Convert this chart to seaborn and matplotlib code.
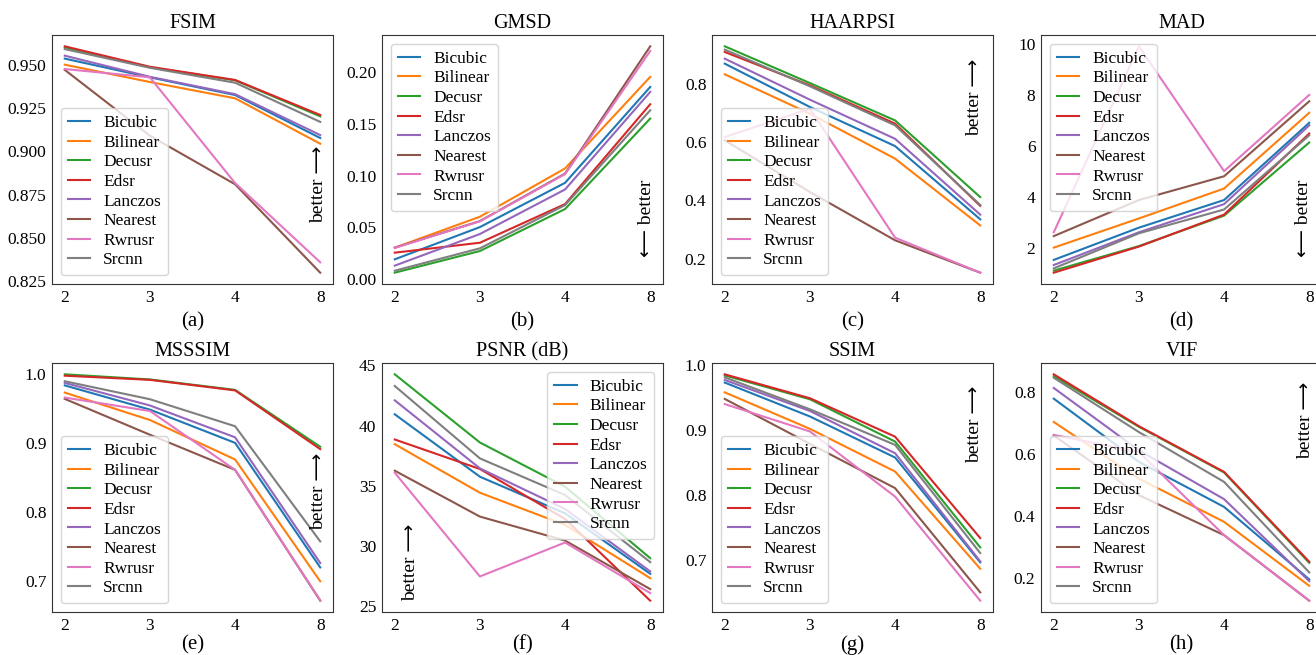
import numpy as np
import pandas as pd
import matplotlib
matplotlib.use("Agg")
import matplotlib.pyplot as plt
import matplotlib.ticker as mticker
import seaborn as sns

# scale factors and methods
scales = ['2', '3', '4', '8']
methods = ['Bicubic', 'Bilinear', 'Decusr', 'Edsr', 'Lanczos', 'Nearest', 'Rwrusr', 'Srcnn']

# values per method, one row per method in the order above (x2, x3, x4, x8)
fsim = [[0.9535, 0.9427, 0.9325, 0.9077],
        [0.9500, 0.9400, 0.9306, 0.9044],
        [0.9600, 0.9485, 0.9410, 0.9202],
        [0.9606, 0.9488, 0.9412, 0.9210],
        [0.9552, 0.9430, 0.9330, 0.9094],
        [0.9470, 0.9090, 0.8810, 0.8300],
        [0.9475, 0.9427, 0.8817, 0.8360],
        [0.9590, 0.9482, 0.9396, 0.9170]]

gmsd = [[0.0193, 0.0504, 0.0931, 0.1856],
        [0.0305, 0.0604, 0.1070, 0.1953],
        [0.0064, 0.0273, 0.0678, 0.1551],
        [0.0257, 0.0353, 0.0726, 0.1689],
        [0.0132, 0.0437, 0.0867, 0.1808],
        [0.0305, 0.0562, 0.1020, 0.2248],
        [0.0303, 0.0560, 0.1015, 0.2203],
        [0.0083, 0.0299, 0.0716, 0.1631]]

haarpsi = [[0.8686, 0.720, 0.586, 0.335],
           [0.8320, 0.697, 0.543, 0.314],
           [0.9280, 0.802, 0.674, 0.411],
           [0.9086, 0.794, 0.663, 0.381],
           [0.8857, 0.745, 0.611, 0.351],
           [0.6057, 0.4286, 0.263, 0.152],
           [0.6170, 0.714, 0.272, 0.152],
           [0.9166, 0.791, 0.657, 0.384]]

mad = [[1.55, 2.81, 3.89, 6.91],
       [2.03, 3.17, 4.34, 7.30],
       [1.13, 2.09, 3.28, 6.14],
       [1.05, 2.07, 3.32, 6.49],
       [1.35, 2.63, 3.73, 6.81],
       [2.48, 3.89, 4.82, 7.75],
       [2.63, 9.90, 5.02, 8.00],
       [1.22, 2.59, 3.52, 6.42]]

msssim = [[0.9830, 0.9480, 0.9000, 0.7200],
          [0.9726, 0.9330, 0.8760, 0.7000],
          [0.9990, 0.9916, 0.9765, 0.8944],
          [0.9970, 0.9910, 0.9758, 0.8910],
          [0.9866, 0.9540, 0.9080, 0.7264],
          [0.9635, 0.9117, 0.8610, 0.6720],
          [0.9654, 0.9460, 0.8610, 0.6726],
          [0.9890, 0.9630, 0.9240, 0.7576]]

psnr = [[40.94, 35.76, 32.72, 27.70],
        [38.46, 34.43, 31.76, 27.34],
        [44.26, 38.60, 34.93, 29.00],
        [38.85, 36.40, 32.25, 25.47],
        [42.10, 36.45, 33.08, 27.90],
        [36.26, 32.45, 30.46, 26.43],
        [36.09, 27.48, 30.30, 26.10],
        [43.29, 37.28, 34.24, 28.67]]

ssim = [[0.9730, 0.9210, 0.8580, 0.6970],
        [0.9580, 0.9020, 0.8365, 0.6873],
        [0.9840, 0.9474, 0.8825, 0.7200],
        [0.9857, 0.9490, 0.8900, 0.7343],
        [0.9770, 0.9295, 0.8646, 0.6986],
        [0.9479, 0.8790, 0.8110, 0.6510],
        [0.9400, 0.8980, 0.7980, 0.6382],
        [0.9810, 0.9320, 0.8774, 0.7113]]

vif = [[0.7786, 0.575, 0.430, 0.1966],
       [0.7035, 0.521, 0.382, 0.176],
       [0.851, 0.688, 0.541, 0.250],
       [0.857, 0.690, 0.5428, 0.2534],
       [0.813, 0.612, 0.455, 0.191],
       [0.660, 0.4677, 0.339, 0.128],
       [0.662, 0.607, 0.339, 0.128],
       [0.846, 0.671, 0.5106, 0.219]]

titles = ['FSIM', 'GMSD', 'HAARPSI', 'MAD', 'MSSSIM', 'PSNR (dB)', 'SSIM', 'VIF']
labels = ['(a)', '(b)', '(c)', '(d)', '(e)', '(f)', '(g)', '(h)']
metric_values = [fsim, gmsd, haarpsi, mad, msssim, psnr, ssim, vif]
legend_locs = ['lower left', 'upper left', 'lower left', 'upper left',
               'lower left', 'upper right', 'lower left', 'lower left']
tick_steps = [0.025, 0.05, 0.2, 2, 0.1, 5, 0.1, 0.2]
# (x, y, arrow up?) for the "better" hint, axes fraction
better = [(0.947, 0.40, True), (0.94, 0.265, False), (0.935, 0.75, True), (0.935, 0.265, False),
          (0.947, 0.485, True), (0.10, 0.20, True), (0.935, 0.755, True), (0.94, 0.77, True)]

plt.rcParams['font.family'] = ['Liberation Serif', 'DejaVu Sans']
plt.rcParams['axes.edgecolor'] = '0.2'

fig = plt.figure(figsize=(13.16, 6.55), dpi=100)

W, H = 1316, 655
ax_w, ax_h = 281, 249
lefts = [52, 382, 712, 1041]
tops = [35, 363]
label_y = [-0.152, -0.132]

for i in range(8):
    row, col = divmod(i, 4)
    left = lefts[col] / W
    bottom = 1 - (tops[row] + ax_h) / H
    ax = fig.add_axes([left, bottom, ax_w / W, ax_h / H])

    df = pd.DataFrame([
        {'scale': s, 'value': metric_values[i][m][k], 'method': name}
        for m, name in enumerate(methods) for k, s in enumerate(scales)
    ])
    sns.lineplot(data=df, x='scale', y='value', hue='method', hue_order=methods,
                 palette='tab10', linewidth=1.5, ax=ax, sort=False)

    ax.set_title(titles[i], fontsize=14.5, pad=5)
    ax.set_xlabel('')
    ax.set_ylabel('')
    ax.text(0.5, label_y[row], labels[i], transform=ax.transAxes, ha='center', va='center',
            fontsize=15)
    ax.yaxis.set_major_locator(mticker.MultipleLocator(tick_steps[i]))
    ax.tick_params(labelsize=12.5, length=0, pad=4)
    ax.legend(loc=legend_locs[i], fontsize=12.5, handlelength=1.3,
              handletextpad=0.75, labelspacing=0.2, borderpad=0.4)

    bx, by, up = better[i]
    txt = 'better \u27f6' if up else '\u27f5 better'
    ax.text(bx, by, txt, rotation=90, transform=ax.transAxes, ha='center', va='center',
            fontsize=14)

fig.savefig('out.png', dpi=100)
